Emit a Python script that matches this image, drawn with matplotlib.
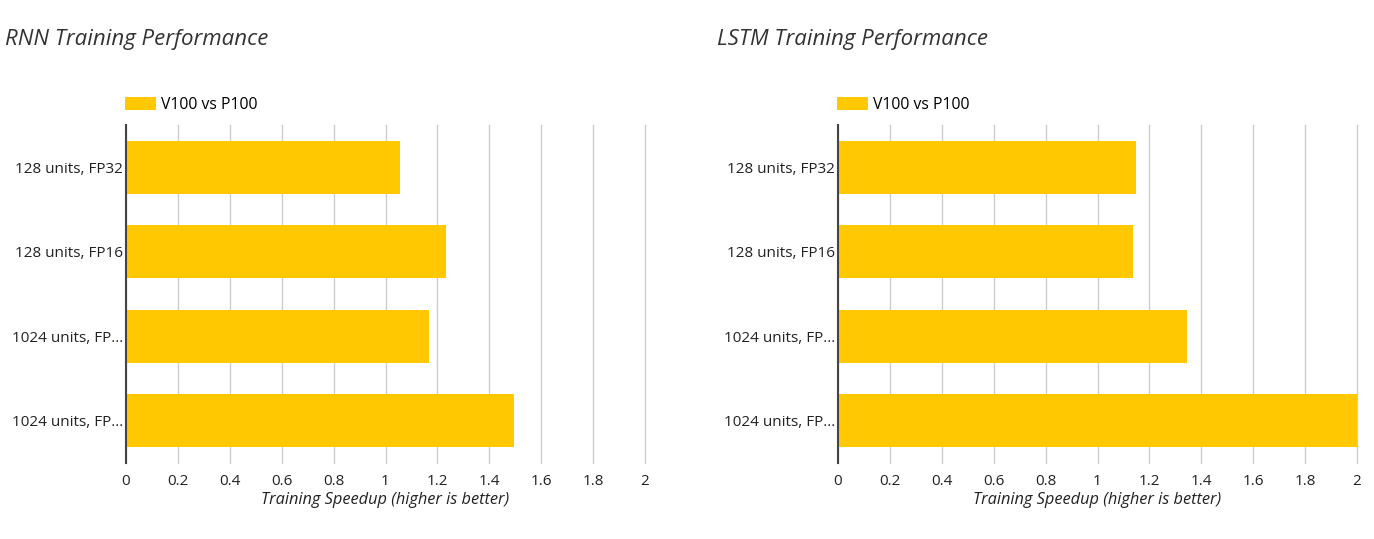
#!/usr/bin/env python3

import numpy as np
import matplotlib
matplotlib.use( 'Agg' )
import matplotlib.pyplot as plt

plt.rcParams['font.family'] = ['Open Sans', 'DejaVu Sans']

categories = [ '128 units, FP32', '128 units, FP16', \
               '1024 units, FP...', '1024 units, FP...' ]
rnn_speedup  = [ 1.056, 1.234, 1.168, 1.494 ]
lstm_speedup = [ 1.148, 1.138, 1.346, 2.0 ]

titles = [ 'RNN Training Performance', 'LSTM Training Performance' ]
series_label = 'V100 vs P100'
xlabel = 'Training Speedup (higher is better)'

xticks = [ 0, 0.2, 0.4, 0.6, 0.8, 1.0, 1.2, 1.4, 1.6, 1.8, 2.0 ]
xtick_labels = [ '0', '0.2', '0.4', '0.6', '0.8', '1', '1.2', '1.4', '1.6', '1.8', '2' ]

W, H = 1374, 539
bar_col = '#ffc800'
txt_col = '#222222'

fig = plt.figure( figsize = ( W / 100, H / 100 ), dpi = 100 )

panels = [ ( 126, 5, rnn_speedup, titles[0] ), \
           ( 838, 717, lstm_speedup, titles[1] ) ]

for x0, xt, vals, title in panels:

    ax = fig.add_axes( [ x0 / W, 1 - 463 / H, 519 / W, 338 / H ] )

    y = np.arange( len( categories ) )
    ax.barh( y, vals, height = 0.63, color = bar_col, label = series_label, zorder = 2 )

    ax.set_xlim( 0, 2 )
    ax.set_ylim( -0.5, len( categories ) - 0.5 )
    ax.invert_yaxis()

    ax.set_yticks( y, labels = categories )
    ax.set_xticks( xticks, labels = xtick_labels )
    ax.tick_params( axis = 'both', length = 0, labelsize = 11, colors = txt_col )
    ax.tick_params( axis = 'y', pad = 2 )
    ax.tick_params( axis = 'x', pad = 8 )

    ax.grid( axis = 'x', color = '#cccccc', lw = 1, zorder = 0 )
    ax.set_axisbelow( True )
    for gl in ax.get_xgridlines():
        gl.set_clip_on( False )

    for s in [ 'top', 'right', 'bottom' ]:
        ax.spines[s].set_visible( False )
    ax.spines['left'].set_color( '#444444' )
    ax.spines['left'].set_linewidth( 1.5 )
    ax.spines['left'].set_zorder( 3 )

    ax.set_xlabel( xlabel, fontsize = 11.8, style = 'italic', color = txt_col, labelpad = 2 )

    ax.legend( loc = 'lower left', bbox_to_anchor = ( -0.002, 1.035 ), frameon = False, \
               fontsize = 11.3, handlelength = 1.95, handleheight = 0.9, \
               handletextpad = 0.35, borderpad = 0, borderaxespad = 0 )

    fig.text( xt / W, 1 - 40 / H, title, fontsize = 16, style = 'italic', \
              color = '#333333', va = 'center', ha = 'left' )

plt.savefig( 'out.png', dpi = 100 )
plt.close()
